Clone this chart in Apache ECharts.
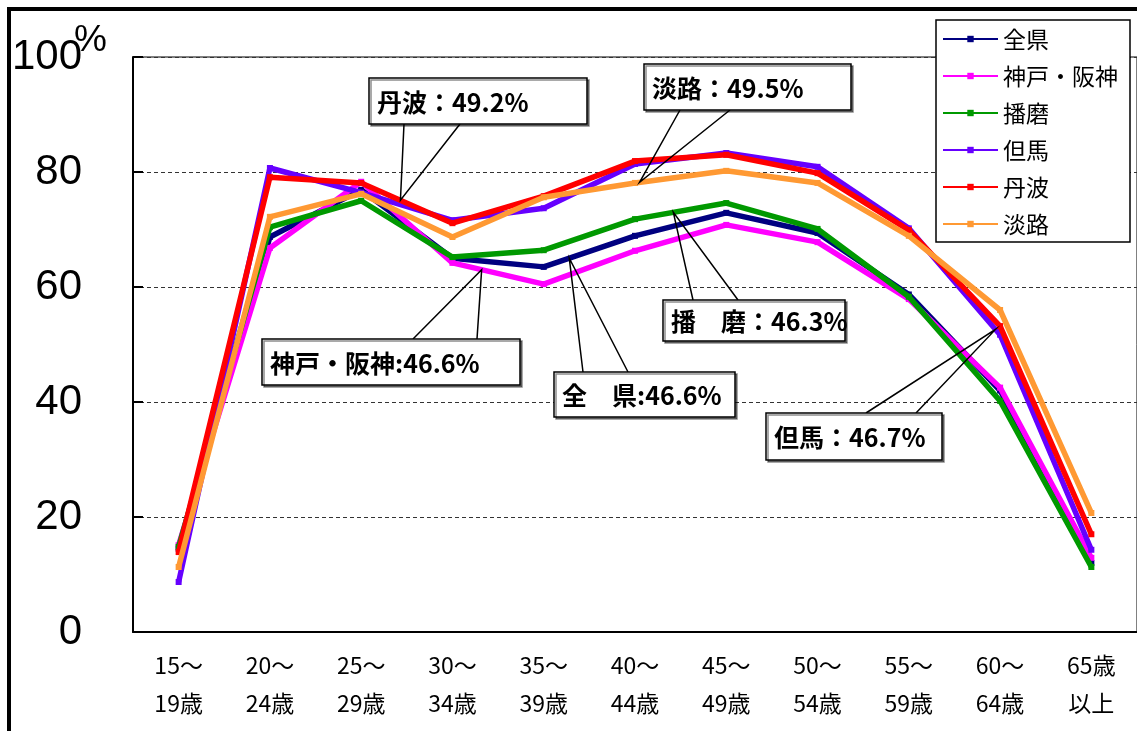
<!DOCTYPE html>
<html>
<head>
<meta charset="utf-8">
<script src="https://cdn.jsdelivr.net/npm/echarts@6/dist/echarts.min.js"></script>
<style>
html, body { margin: 0; padding: 0; background: #fff; }
#main { width: 1137px; height: 731px; }
</style>
</head>
<body>
<div id="main"></div>
<script>
// 年齢階級（5歳刻み）
const ageGroups = ['15～\n19歳', '20～\n24歳', '25～\n29歳', '30～\n34歳', '35～\n39歳',
  '40～\n44歳', '45～\n49歳', '50～\n54歳', '55～\n59歳', '60～\n64歳', '65歳\n以上'];

// 地域別 年齢階級別 労働力率（%）
const zenken   = [14.5, 68.7, 76.9, 65.0, 63.5, 68.9, 72.9, 69.4, 58.7, 42.0, 12.0];
const kobeHanshin = [15.1, 66.8, 78.3, 64.2, 60.5, 66.3, 70.8, 67.8, 57.9, 42.5, 12.9];
const harima   = [14.8, 70.4, 75.0, 65.2, 66.4, 71.8, 74.6, 70.1, 58.3, 40.2, 11.3];
const tajima   = [8.7, 80.7, 76.4, 71.6, 73.7, 81.4, 83.3, 80.9, 70.2, 51.7, 14.3];
const tanba    = [13.9, 79.1, 78.1, 71.1, 75.8, 81.9, 83.0, 79.8, 69.9, 53.2, 17.0];
const awaji    = [11.3, 72.2, 76.2, 68.7, 75.6, 78.1, 80.2, 78.1, 68.9, 56.0, 20.7];

const regionNames = ['全県', '神戸・阪神', '播磨', '但馬', '丹波', '淡路'];
const regionValues = [zenken, kobeHanshin, harima, tajima, tanba, awaji];
const regionColors = ['#000080', '#FF00FF', '#009900', '#6600FF', '#FF0000', '#FF9933'];

// 労働力率（全年齢）の吹き出し
const calloutTexts = ['全　県:46.6%', '神戸・阪神:46.6%', '播　磨：46.3%', '但馬：46.7%', '丹波：49.2%', '淡路：49.5%'];
// 吹き出しの指す位置：系列番号, 区間の始点, 区間内の割合
const calloutSeries = [0, 1, 2, 3, 4, 5];
const calloutFrom   = [4, 3, 5, 8, 2, 5];
const calloutFrac   = [0.28, 0.32, 0.42, 0.95, 0.43, 0.05];

const yTicks = [0, 20, 40, 60, 80, 100];

// 吹き出しの枠（x, y, 幅, 高さ, 引き出し線の辺, 付け根の x 2点）
const calloutBoxes = [
  { x: 554, y: 372, w: 181, h: 45, edge: 'top', b1: 583, b2: 628 },
  { x: 262, y: 339, w: 258, h: 46, edge: 'top', b1: 413, b2: 477 },
  { x: 663, y: 300, w: 182, h: 41, edge: 'top', b1: 693, b2: 738 },
  { x: 766, y: 413, w: 176, h: 47, edge: 'top', b1: 866, b2: 916 },
  { x: 369, y: 78,  w: 218, h: 46, edge: 'bottom', b1: 404, b2: 460 },
  { x: 644, y: 64,  w: 207, h: 46, edge: 'bottom', b1: 680, b2: 730 }
];

const JP = '"Noto Sans CJK JP", "Noto Sans", sans-serif';

const chart = echarts.init(document.getElementById('main'));

chart.setOption({
  animation: false,
  backgroundColor: '#fff',
  grid: {
    left: 133, top: 57, width: 1010, height: 575,
    show: true, borderColor: '#000', borderWidth: 1, backgroundColor: 'transparent'
  },
  legend: {
    orient: 'vertical',
    left: 936, top: 20,
    data: regionNames,
    itemWidth: 55, itemHeight: 8, itemGap: 13,
    padding: [7, 12, 6, 6],
    backgroundColor: '#fff',
    borderColor: '#000', borderWidth: 1.5,
    textStyle: { fontSize: 23, fontFamily: JP, color: '#000', lineHeight: 24 },
    z: 20
  },
  xAxis: {
    type: 'category',
    data: ageGroups,
    boundaryGap: true,
    axisLine: { lineStyle: { color: '#000', width: 2 } },
    axisTick: { inside: true, length: 9, lineStyle: { color: '#000', width: 1 } },
    axisLabel: {
      color: '#000', fontSize: 23, fontFamily: JP, lineHeight: 38, margin: 14, interval: 0
    },
    splitLine: { show: false }
  },
  yAxis: {
    type: 'value',
    min: 0, max: 100, interval: 20,
    axisLine: { show: true, lineStyle: { color: '#000', width: 2 } },
    axisTick: { show: true, inside: true, length: 10, lineStyle: { color: '#000', width: 2 } },
    axisLabel: {
      color: '#000', fontSize: 42, fontFamily: '"Liberation Sans", Arial, sans-serif', margin: 51,
      formatter: v => (yTicks.indexOf(v) >= 0 ? String(v) : '')
    },
    splitLine: { show: true, lineStyle: { color: '#333', width: 1, type: [4, 3] } }
  },
  series: regionNames.map((name, i) => ({
    name: name,
    type: 'line',
    data: regionValues[i],
    symbol: 'rect',
    symbolSize: 6,
    lineStyle: { color: regionColors[i], width: 5.5 },
    itemStyle: { color: regionColors[i] },
    z: 2 + i
  }))
});

// 吹き出しと外枠
const graphics = [];
graphics.push({
  type: 'rect', silent: true, z: 200,
  shape: { x: 9, y: 9, width: 1400, height: 1000 },
  style: { fill: null, stroke: '#000', lineWidth: 4 }
});
graphics.push({
  type: 'text', silent: true, z: 50,
  style: { text: '%', x: 74, y: 22, fill: '#000', fontSize: 37,
    fontFamily: '"Liberation Sans", Arial, sans-serif', verticalAlign: 'top' }
});

calloutTexts.forEach((txt, k) => {
  const s = calloutSeries[k];
  const vals = regionValues[s];
  const i0 = calloutFrom[k];
  const t = calloutFrac[k];
  const p0 = chart.convertToPixel({ gridIndex: 0 }, [i0, vals[i0]]);
  const p1 = chart.convertToPixel({ gridIndex: 0 }, [i0 + 1, vals[i0 + 1]]);
  const tip = [p0[0] + (p1[0] - p0[0]) * t, p0[1] + (p1[1] - p0[1]) * t];
  const b = calloutBoxes[k];
  const by = b.edge === 'top' ? b.y : b.y + b.h;
  graphics.push({
    type: 'polyline', silent: true, z: 60,
    shape: { points: [[b.b1, by], tip, [b.b2, by]] },
    style: { stroke: '#000', lineWidth: 1.5, fill: null }
  });
  graphics.push({
    type: 'rect', silent: true, z: 61,
    shape: { x: b.x, y: b.y, width: b.w, height: b.h },
    style: { fill: '#fff', stroke: '#000', lineWidth: 1.5,
      shadowColor: 'rgba(0,0,0,0.45)', shadowOffsetX: 2, shadowOffsetY: 2, shadowBlur: 0 }
  });
  graphics.push({
    type: 'text', silent: true, z: 62,
    style: { text: txt, x: b.x + 8, y: b.y + b.h / 2 + 1, fill: '#000',
      fontSize: 25, fontWeight: 'bold', fontFamily: JP, verticalAlign: 'middle' }
  });
});

chart.setOption({ graphic: graphics });
</script>
</body>
</html>
